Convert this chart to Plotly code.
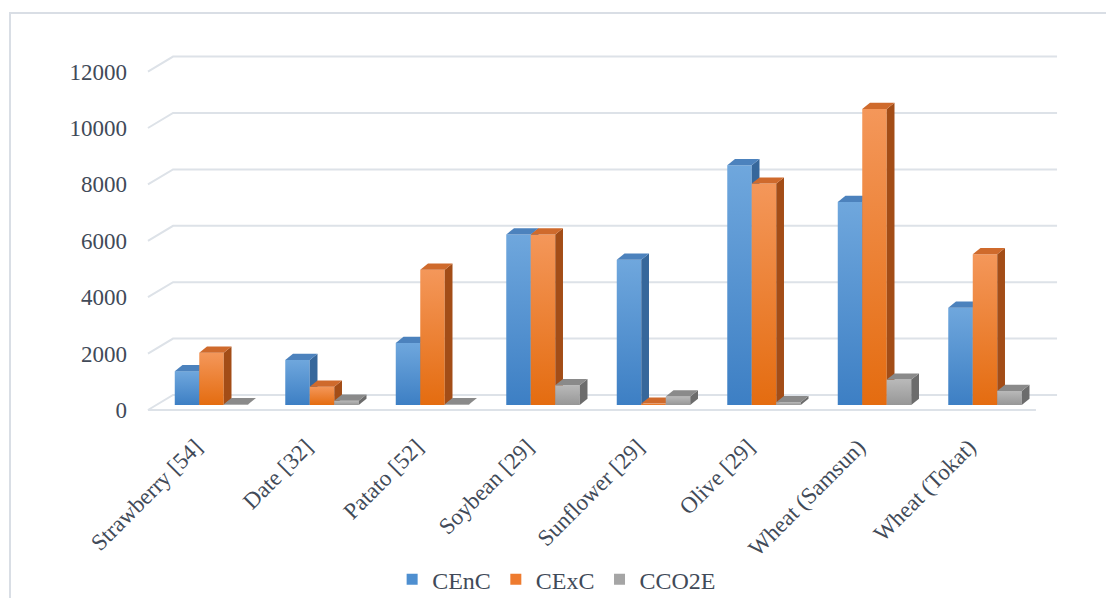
import plotly.graph_objects as go

categories = ["Strawberry [54]", "Date [32]", "Patato [52]", "Soybean [29]",
              "Sunflower [29]", "Olive [29]", "Wheat (Samsun)", "Wheat (Tokat)"]
cenc = [1200, 1600, 2200, 6050, 5150, 8500, 7200, 3450]
cexc = [1850, 650, 4800, 6050, 50, 7850, 10500, 5350]
cco2e = [30, 150, 30, 700, 300, 100, 900, 500]
y_ticks = [0, 2000, 4000, 6000, 8000, 10000, 12000]

series = [
    ("CEnC", cenc, dict(top="#6fa7dd", bottom="#3d7fc4", side="#36679b", cap="#4c82bd", legend="#4e8fd0")),
    ("CExC", cexc, dict(top="#f4975a", bottom="#e46c10", side="#a34d17", cap="#cf6a2c", legend="#ee7b2f")),
    ("CCO2E", cco2e, dict(top="#b9b9b9", bottom="#979797", side="#6c6c6c", cap="#8a8a8a", legend="#a5a5a5")),
]

W = 0.2217      # bar width (category units)
DX = 0.07       # depth offset in x
DY = 220        # depth offset in y (value units)
FRONT_OFF = -177
BACK_OFF = 355
X_FRONT_LEFT = -0.575
X_BACK_LEFT = -0.348
X_BACK_RIGHT = 7.652
X_FRONT_RIGHT = 7.461

GRID = "#dde2e8"
TEXT = "#414a58"
FONT = "Liberation Serif"

fig = go.Figure()

# back wall gridlines + left floor diagonals
for t in y_ticks:
    fig.add_trace(go.Scatter(
        x=[X_FRONT_LEFT, X_BACK_LEFT, X_BACK_RIGHT],
        y=[t + FRONT_OFF, t + BACK_OFF, t + BACK_OFF],
        mode="lines", line=dict(color=GRID, width=2),
        showlegend=False, hoverinfo="skip"))
# floor front edge
fig.add_trace(go.Scatter(
    x=[X_FRONT_LEFT, X_FRONT_RIGHT], y=[FRONT_OFF, FRONT_OFF],
    mode="lines", line=dict(color=GRID, width=2),
    showlegend=False, hoverinfo="skip"))

for i in range(len(categories)):
    for s_idx, (name, vals, col) in enumerate(series):
        v = vals[i]
        x0 = i + (s_idx - 1.5) * W
        x1 = x0 + W
        # front face
        fig.add_trace(go.Scatter(
            x=[x0, x1, x1, x0, x0], y=[0, 0, v, v, 0],
            fill="toself", mode="lines", line=dict(width=0),
            fillcolor=col["bottom"],
            fillgradient=dict(type="vertical",
                              colorscale=[[0, col["bottom"]], [1, col["top"]]]),
            showlegend=False, hoverinfo="skip"))
        # side face
        fig.add_trace(go.Scatter(
            x=[x1, x1 + DX, x1 + DX, x1, x1], y=[0, DY, v + DY, v, 0],
            fill="toself", mode="lines", line=dict(width=0),
            fillcolor=col["side"], showlegend=False, hoverinfo="skip"))
        # top face
        fig.add_trace(go.Scatter(
            x=[x0, x1, x1 + DX, x0 + DX, x0], y=[v, v, v + DY, v + DY, v],
            fill="toself", mode="lines", line=dict(width=0),
            fillcolor=col["cap"], showlegend=False, hoverinfo="skip"))

# legend entries
for name, vals, col in series:
    fig.add_trace(go.Scatter(
        x=[None], y=[None], mode="markers", name=name,
        marker=dict(symbol="square", size=11, color=col["legend"])))

fig.update_layout(
    width=1106, height=598,
    margin=dict(l=140, r=36, t=40, b=178, autoexpand=False),
    plot_bgcolor="white", paper_bgcolor="white",
    font=dict(family=FONT, color=TEXT),
    showlegend=True,
    legend=dict(orientation="h", x=0.448, xanchor="center", y=-0.42, yanchor="middle",
                font=dict(size=24, family=FONT, color=TEXT), itemwidth=30,
                tracegroupgap=0, bgcolor="rgba(0,0,0,0)"),
    xaxis=dict(range=[-0.6471, 7.7692], showgrid=False, zeroline=False, showline=False,
               tickvals=list(range(len(categories))), ticktext=categories,
               tickangle=-45, ticks="", ticklabelshift=-16, ticklabelstandoff=8,
               tickfont=dict(size=23, family=FONT, color=TEXT)),
    yaxis=dict(range=[-532, 12943], showgrid=False, zeroline=False, showline=False,
               tickvals=[t + FRONT_OFF for t in y_ticks], ticktext=[str(t) for t in y_ticks],
               ticks="", ticklabelstandoff=12,
               tickfont=dict(size=23, family=FONT, color=TEXT)),
    shapes=[dict(type="rect", xref="paper", yref="paper",
                 x0=(10 - 140) / 930, x1=(1120 - 140) / 930,
                 y0=(420 - 620) / 380, y1=(420 - 13) / 380,
                 line=dict(color="#d9dee5", width=2), fillcolor="rgba(0,0,0,0)",
                 layer="below")],
)

fig.write_html("out.html")
